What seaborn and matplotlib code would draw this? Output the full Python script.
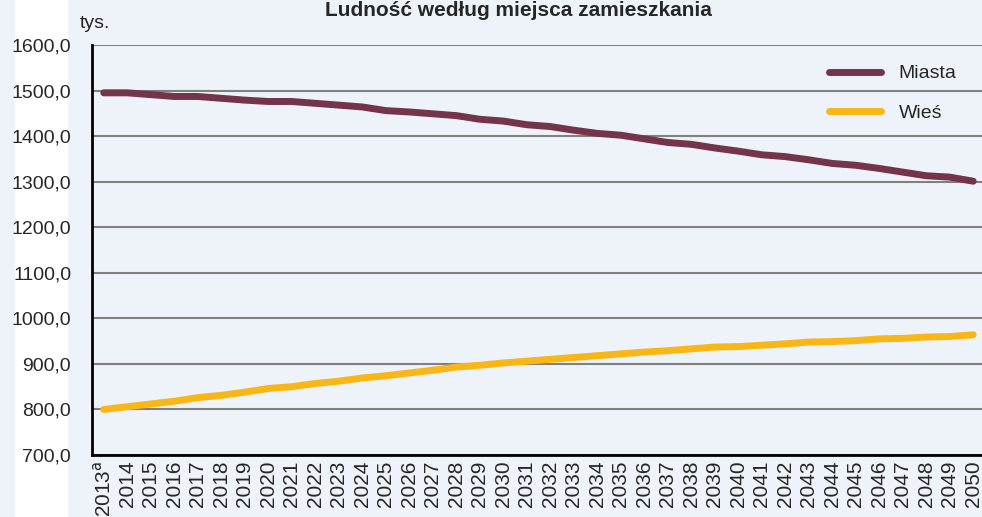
import numpy as np
import pandas as pd
import matplotlib
matplotlib.use('Agg')
import matplotlib.pyplot as plt
import seaborn as sns
from matplotlib.patches import Rectangle
from matplotlib.ticker import FixedLocator

# data (thousands of people)
years = [str(y) for y in range(2013, 2051)]
miasta = [1495, 1495, 1491, 1487, 1487, 1483, 1479, 1476, 1476, 1472,
          1468, 1464, 1456, 1453, 1449, 1445, 1437, 1433, 1425, 1421,
          1413, 1406, 1402, 1394, 1386, 1382, 1374, 1367, 1359, 1355,
          1348, 1340, 1336, 1329, 1321, 1313, 1310, 1301]
wies = [800, 806, 812, 818, 826, 831, 838, 846, 850, 857,
        862, 869, 874, 880, 886, 893, 897, 902, 906, 910,
        914, 918, 922, 926, 929, 933, 937, 938, 941, 944,
        948, 949, 951, 955, 956, 959, 960, 964]
series_names = ['Miasta', 'Wieś']
y_ticks = [700, 800, 900, 1000, 1100, 1200, 1300, 1400, 1500, 1600]
title = 'Ludność według miejsca zamieszkania'
unit = 'tys.'

BG = '#EEF3FA'
colors = {'Miasta': '#74344A', 'Wieś': '#F9B717'}

df = pd.DataFrame({'rok': years * 2,
                   'wartosc': miasta + wies,
                   'seria': [series_names[0]] * len(years) + [series_names[1]] * len(years)})

sns.set_style('white')
plt.rcParams['font.family'] = ['Liberation Sans', 'DejaVu Sans']

fig = plt.figure(figsize=(9.82, 5.17), dpi=100)
fig.patch.set_facecolor(BG)
# white strip on the left side of the picture
fig.patches.append(Rectangle((15 / 982, 0), 53 / 982, 1, transform=fig.transFigure,
                             facecolor='white', edgecolor='none', zorder=-5))

ax = fig.add_axes([92 / 982, 62 / 517, 893 / 982, 410 / 517])
ax.set_zorder(2)
ax.set_facecolor(BG)

sns.lineplot(data=df, x='rok', y='wartosc', hue='seria', palette=colors,
             linewidth=5, ax=ax, sort=False, solid_capstyle='round')

ax.set_xlim(-0.5, len(years) - 0.5)
ax.set_ylim(y_ticks[0], y_ticks[-1])
ax.set_yticks(y_ticks)
ax.set_yticklabels([f'{v},0' for v in y_ticks], fontsize=14)
ax.set_xticks(range(len(years)))
xlabels = list(years)
xlabels[0] = years[0] + r'$^{\mathrm{a}}$'
ax.set_xticklabels(xlabels, rotation=90, fontsize=15)
ax.xaxis.set_minor_locator(FixedLocator(np.arange(-0.5, len(years), 1)))
ax.tick_params(axis='x', which='major', length=0, pad=4)
ax.tick_params(axis='x', which='minor', length=5, width=1.5, color='black', direction='out')
ax.tick_params(axis='y', length=5, width=1.5, color='black', direction='out', pad=10)
ax.set_xlabel('')
ax.set_ylabel('')

ax.grid(axis='y', color='#808080', linewidth=1.5)
ax.set_axisbelow(True)
for side in ['top', 'right']:
    ax.spines[side].set_visible(False)
for side in ['left', 'bottom']:
    ax.spines[side].set_color('black')
    ax.spines[side].set_linewidth(2)

ax.legend(loc='upper left', bbox_to_anchor=(819 / 982, 1 - 55 / 517),
          bbox_transform=fig.transFigure, frameon=False, fontsize=14,
          handlelength=2.7, handletextpad=0.9, labelspacing=1.15, borderpad=0)

fig.text(80 / 982, 1 - 28 / 517, unit, fontsize=14)
fig.text(518 / 982, 1 - 16 / 517, title, fontsize=15, fontweight='bold',
         ha='center', va='baseline')

fig.savefig('out.png', dpi=100, facecolor=fig.get_facecolor())
